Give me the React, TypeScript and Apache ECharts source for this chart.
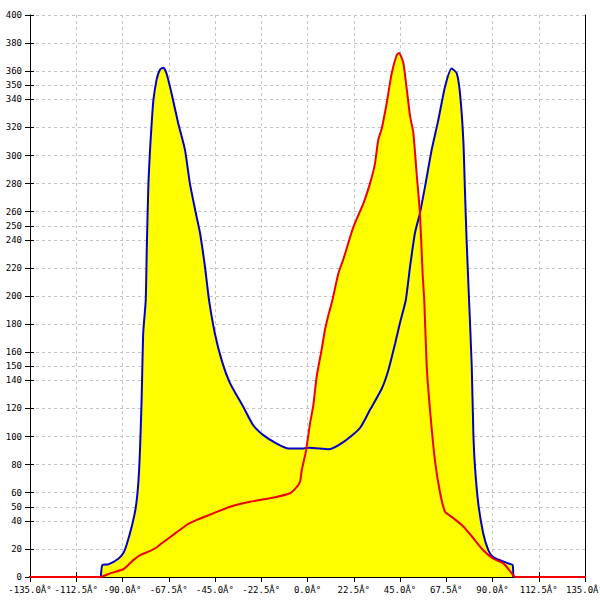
import { useEffect, useRef } from "react";
import * as echarts from "echarts";

const degreeSuffix = "Â°";

const xMin = -135;
const xMax = 135;
const xStep = 22.5;
const yMax = 400;

const blueDeg = [
  -100.5, -99.8, -96.9, -92, -89.6, -88, -85.5, -83.6, -82.3, -81.5, -80.7, -79.9, -78.7, -78.2,
  -77.4, -76.6, -75.8, -75, -73.4, -71.8, -70.1, -68.5, -66.1, -62.9, -59.6, -57.2, -53.9, -52.3,
  -49.9, -47.9, -45, -41.7, -37.7, -31.2, -26.4, -21.5, -15, -9.3, -2, 0.8, 10.5, 17.4, 25.5, 30.4,
  36.1, 39.3, 42.6, 45, 47.8, 49.9, 52.3, 54.7, 57.2, 60.4, 63.6, 66.9, 70.1, 72.6, 74.2, 75.8,
  76.6, 77.4, 78.6, 79.9, 80.7, 81.5, 83.1, 85.5, 88, 90.4, 93.6, 97.7, 99.8, 100.1,
];
const blueVal = [
  0, 8.5, 9, 13, 17, 23, 36, 49, 67, 90, 126, 174, 197, 233,
  280, 304, 323, 339, 354, 361, 362.5, 358, 344, 323, 304, 280, 256, 245,
  221, 197, 173, 154, 138, 121, 108, 101, 95, 91.5, 91.5, 92, 91, 96, 106, 119,
  134, 147, 166, 181, 197, 221, 245, 259, 278, 304, 325, 349, 362, 358.5, 344, 311,
  275, 240, 197, 150, 102, 78, 52, 31, 19, 14, 12, 9.7, 8.5, 0,
];

const redDeg = [
  -180, -101, -96, -89.6, -87.2, -84.7, -81.5, -77.4, -73.4, -70.9, -65.3, -58.8, -53.9, -45.8,
  -37.7, -28, -18.2, -8.5, -5.3, -3.6, -2.8, -0.7, 1.2, 2.8, 4.5, 6.9, 8.5, 10.1, 12.1, 15, 17.4,
  22.3, 27.2, 30.4, 32.8, 34.4, 36.1, 38.5, 40.9, 43.4, 44.5, 46.6, 48.3, 49.9, 51.5, 53.1, 54.7,
  56, 56.8, 58, 59.6, 62, 64.5, 66.9, 70.9, 75.8, 79.9, 85.5, 90.4, 95.3, 100.1, 101, 180,
];
const redVal = [
  0, 0, 2.6, 5.5, 8.5, 12, 15.5, 18, 21, 24, 30, 37, 40.6, 45.3,
  50, 53.6, 56, 59.6, 64, 68, 76, 90, 109, 122, 143, 162, 176, 186, 197, 216, 226,
  249, 266, 280, 294, 311, 319, 337, 358, 371.5, 373, 366, 347, 328, 316, 287, 259,
  216, 197, 150, 119, 83, 60, 46.5, 42, 36, 29, 19, 13, 9.7, 1.4, 0, 0,
];

const zip = (a: number[], b: number[]) => a.map((d, i) => [d, b[i]]);

export default function App() {
  const ref = useRef<HTMLDivElement>(null);

  useEffect(() => {
    const chart = echarts.init(ref.current!, null, { renderer: "svg" });
    const font = { fontFamily: "DejaVu Sans Mono", fontSize: 9, color: "#000" };
    const gridLine = { show: true, lineStyle: { color: "#c4c4c4", type: [3, 3] as any, width: 1 } };
    const black = { color: "#000", width: 1 };

    const yCommon = { type: "value" as const, min: 0, max: yMax, position: "left" as const };
    const smooth = 0.2;

    chart.setOption({
      animation: false,
      grid: {
        left: 30,
        right: 15,
        top: 15,
        bottom: 23,
        containLabel: false,
        outerBoundsMode: "none",
      },
      xAxis: [
        {
          type: "value",
          min: xMin,
          max: xMax,
          interval: xStep,
          position: "bottom",
          axisLine: { show: true, onZero: false, lineStyle: black },
          axisTick: { show: true, length: 5, lineStyle: black },
          axisLabel: {
            ...font,
            margin: 8,
            showMinLabel: true,
            showMaxLabel: true,
            formatter: (v: number) => v.toFixed(1) + degreeSuffix,
          },
          splitLine: gridLine,
        },
        {
          type: "value",
          min: xMin,
          max: xMax,
          interval: xStep,
          position: "bottom",
          axisLine: { show: false, onZero: false },
          axisTick: { show: true, inside: true, length: 5, lineStyle: black },
          axisLabel: { show: false },
          splitLine: { show: false },
        },
      ],
      yAxis: [
        {
          ...yCommon,
          interval: 20,
          axisLine: { show: true, onZero: false, lineStyle: black },
          axisTick: { show: true, length: 5, lineStyle: black },
          axisLabel: { ...font, margin: 8 },
          splitLine: gridLine,
        },
        {
          ...yCommon,
          interval: 20,
          axisLine: { show: false, onZero: false },
          axisTick: { show: true, inside: true, length: 4, lineStyle: black },
          axisLabel: { show: false },
          splitLine: { show: false },
        },
        {
          ...yCommon,
          interval: 50,
          axisLine: { show: false, onZero: false },
          axisTick: { show: true, length: 5, lineStyle: black },
          axisLabel: {
            ...font,
            margin: 8,
            formatter: (v: number) => (v % 100 === 0 ? "" : String(v)),
          },
          splitLine: gridLine,
        },
        {
          ...yCommon,
          interval: 50,
          axisLine: { show: false, onZero: false },
          axisTick: { show: true, inside: true, length: 4, lineStyle: black },
          axisLabel: { show: false },
          splitLine: { show: false },
        },
        {
          type: "value",
          min: 0,
          max: yMax,
          position: "right",
          axisLine: { show: true, onZero: false, lineStyle: black },
          axisTick: { show: false },
          axisLabel: { show: false },
          splitLine: { show: false },
        },
      ],
      series: [
        {
          type: "line",
          data: zip(blueDeg, blueVal),
          symbol: "none",
          smooth,
          lineStyle: { width: 0 },
          areaStyle: { color: "#ffff00", opacity: 1 },
          z: 2,
        },
        {
          type: "line",
          data: zip(redDeg, redVal),
          symbol: "none",
          smooth,
          clip: false,
          lineStyle: { width: 0 },
          areaStyle: { color: "#ffff00", opacity: 1 },
          z: 2,
        },
        {
          type: "line",
          data: zip(blueDeg, blueVal),
          symbol: "none",
          smooth,
          lineStyle: { width: 2, color: "#0000cc" },
          z: 3,
        },
        {
          type: "line",
          data: zip(redDeg, redVal),
          symbol: "none",
          smooth,
          clip: false,
          lineStyle: { width: 2, color: "#ee0000" },
          z: 4,
        },
      ],
    });
    return () => chart.dispose();
  }, []);

  return (
    <div
      ref={ref}
      style={{ position: "fixed", left: 0, top: 0, width: 600, height: 600, background: "#fff" }}
    />
  );
}
